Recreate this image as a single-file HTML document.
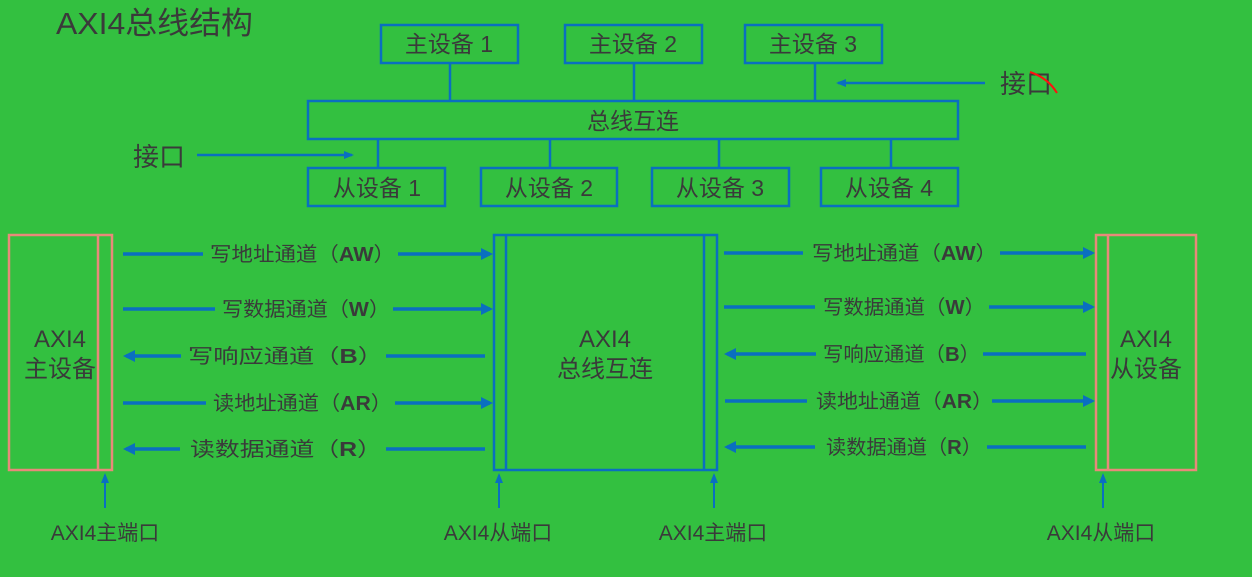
<!DOCTYPE html>
<html><head><meta charset="utf-8"><style>
html,body{margin:0;padding:0;background:#33c040;}
svg{display:block;}
text{font-family:"Liberation Sans","Noto Sans CJK SC",sans-serif;fill:#3a3a3a;}
</style></head><body>
<svg width="1252" height="577" viewBox="0 0 1252 577" xmlns="http://www.w3.org/2000/svg">
<defs>
<marker id="ah" markerWidth="12" markerHeight="12" refX="9" refY="6" orient="auto" markerUnits="userSpaceOnUse">
<path d="M0,0 L12,6 L0,12 Z" fill="#0a6fc0"/></marker>
<marker id="ahs" markerWidth="10" markerHeight="10" refX="8" refY="5" orient="auto" markerUnits="userSpaceOnUse">
<path d="M0,1 L10,5 L0,9 Z" fill="#0a6fc0"/></marker>
</defs>
<rect width="1252" height="577" fill="#33c040"/>
<text x="56" y="34" font-size="31" textLength="197" lengthAdjust="spacingAndGlyphs">AXI4总线结构</text>

<g fill="none" stroke="#0a6fc0" stroke-width="2.5">
<rect x="381" y="25" width="137" height="38"/>
<rect x="565" y="25" width="137" height="38"/>
<rect x="745" y="25" width="137" height="38"/>
<rect x="308" y="101" width="650" height="38"/>
<rect x="308" y="168" width="137" height="38"/>
<rect x="481" y="168" width="136" height="38"/>
<rect x="652" y="168" width="137" height="38"/>
<rect x="821" y="168" width="137" height="38"/>
<line x1="450" y1="64" x2="450" y2="101"/>
<line x1="634" y1="64" x2="634" y2="101"/>
<line x1="815" y1="64" x2="815" y2="101"/>
<line x1="378" y1="139" x2="378" y2="168"/>
<line x1="550" y1="139" x2="550" y2="168"/>
<line x1="719" y1="139" x2="719" y2="168"/>
<line x1="891" y1="139" x2="891" y2="168"/>
<line x1="197" y1="155" x2="352" y2="155" marker-end="url(#ahs)"/>
<line x1="985" y1="83" x2="838" y2="83" marker-end="url(#ahs)"/>
</g>
<g font-size="23" text-anchor="middle">
<text x="449" y="52">主设备 1</text>
<text x="633" y="52">主设备 2</text>
<text x="813" y="52">主设备 3</text>
<text x="633" y="129">总线互连</text>
<text x="377" y="196">从设备 1</text>
<text x="549" y="196">从设备 2</text>
<text x="720" y="196">从设备 3</text>
<text x="889" y="196">从设备 4</text>
</g>
<text x="133" y="166" font-size="26">接口</text>
<text x="1000" y="93" font-size="26">接口</text>
<path d="M1030,72 Q1048,78 1057,93" stroke="#ff1010" stroke-width="2" fill="none"/>

<g fill="none" stroke-width="2.5">
<rect x="9" y="235" width="103" height="235" stroke="#e88a7a"/>
<line x1="98" y1="235" x2="98" y2="470" stroke="#e88a7a"/>
<rect x="494" y="235" width="223" height="235" stroke="#0a6fc0"/>
<line x1="506" y1="235" x2="506" y2="470" stroke="#0a6fc0"/>
<line x1="704" y1="235" x2="704" y2="470" stroke="#0a6fc0"/>
<rect x="1096" y="235" width="100" height="235" stroke="#e88a7a"/>
<line x1="1108" y1="235" x2="1108" y2="470" stroke="#e88a7a"/>
</g>
<g font-size="24" text-anchor="middle">
<text x="60" y="347">AXI4</text>
<text x="60" y="377">主设备</text>
<text x="605" y="347">AXI4</text>
<text x="605" y="377">总线互连</text>
<text x="1146" y="347">AXI4</text>
<text x="1146" y="377">从设备</text>
</g>

<g stroke="#0a6fc0" stroke-width="3.5" fill="none">
<line x1="123" y1="254" x2="203" y2="254"/><line x1="398" y1="254" x2="490" y2="254" marker-end="url(#ah)"/>
<line x1="123" y1="309" x2="215" y2="309"/><line x1="393" y1="309" x2="490" y2="309" marker-end="url(#ah)"/>
<line x1="181" y1="356" x2="126" y2="356" marker-end="url(#ah)"/><line x1="386" y1="356" x2="485" y2="356"/>
<line x1="123" y1="403" x2="206" y2="403"/><line x1="395" y1="403" x2="490" y2="403" marker-end="url(#ah)"/>
<line x1="180" y1="449" x2="126" y2="449" marker-end="url(#ah)"/><line x1="386" y1="449" x2="485" y2="449"/>

<line x1="724" y1="253" x2="803" y2="253"/><line x1="1000" y1="253" x2="1092" y2="253" marker-end="url(#ah)"/>
<line x1="724" y1="307" x2="815" y2="307"/><line x1="989" y1="307" x2="1092" y2="307" marker-end="url(#ah)"/>
<line x1="816" y1="354" x2="727" y2="354" marker-end="url(#ah)"/><line x1="983" y1="354" x2="1086" y2="354"/>
<line x1="725" y1="401" x2="807" y2="401"/><line x1="992" y1="401" x2="1092" y2="401" marker-end="url(#ah)"/>
<line x1="815" y1="447" x2="727" y2="447" marker-end="url(#ah)"/><line x1="987" y1="447" x2="1086" y2="447"/>
</g>
<g stroke="#0a6fc0" stroke-width="2" fill="none">
<line x1="105" y1="508" x2="105" y2="475" marker-end="url(#ahs)"/>
<line x1="499" y1="508" x2="499" y2="475" marker-end="url(#ahs)"/>
<line x1="714" y1="508" x2="714" y2="475" marker-end="url(#ahs)"/>
<line x1="1103" y1="508" x2="1103" y2="475" marker-end="url(#ahs)"/>
</g>

<g font-size="20">
<text x="210" y="261" textLength="185" lengthAdjust="spacingAndGlyphs">写地址通道（<tspan font-weight="bold">AW</tspan>）</text>
<text x="222" y="316" textLength="168" lengthAdjust="spacingAndGlyphs">写数据通道（<tspan font-weight="bold">W</tspan>）</text>
<text x="188" y="363" textLength="195" lengthAdjust="spacingAndGlyphs">写响应通道（<tspan font-weight="bold">B</tspan>）</text>
<text x="213" y="410" textLength="179" lengthAdjust="spacingAndGlyphs">读地址通道（<tspan font-weight="bold">AR</tspan>）</text>
<text x="190" y="456" textLength="192" lengthAdjust="spacingAndGlyphs">读数据通道（<tspan font-weight="bold">R</tspan>）</text>

<text x="812" y="260" textLength="185" lengthAdjust="spacingAndGlyphs">写地址通道（<tspan font-weight="bold">AW</tspan>）</text>
<text x="823" y="314" textLength="162" lengthAdjust="spacingAndGlyphs">写数据通道（<tspan font-weight="bold">W</tspan>）</text>
<text x="823" y="361" textLength="157" lengthAdjust="spacingAndGlyphs">写响应通道（<tspan font-weight="bold">B</tspan>）</text>
<text x="816" y="408" textLength="177" lengthAdjust="spacingAndGlyphs">读地址通道（<tspan font-weight="bold">AR</tspan>）</text>
<text x="826" y="454" textLength="156" lengthAdjust="spacingAndGlyphs">读数据通道（<tspan font-weight="bold">R</tspan>）</text>
</g>

<g font-size="21" text-anchor="middle">
<text x="105" y="540">AXI4主端口</text>
<text x="498" y="540">AXI4从端口</text>
<text x="713" y="540">AXI4主端口</text>
<text x="1101" y="540">AXI4从端口</text>
</g>
</svg>
</body></html>
